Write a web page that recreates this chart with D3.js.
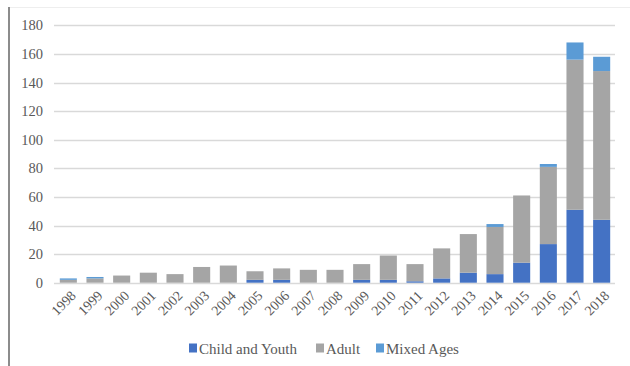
<!DOCTYPE html>
<html>
<head>
<meta charset="utf-8">
<script src="https://cdn.jsdelivr.net/npm/d3@7"></script>
<style>
  html, body { margin: 0; padding: 0; background: #fff; }
  svg { display: block; }
</style>
</head>
<body>
<svg id="chart" width="630" height="366"></svg>
<script>
const years = ["1998","1999","2000","2001","2002","2003","2004","2005","2006","2007","2008","2009","2010","2011","2012","2013","2014","2015","2016","2017","2018"];
const childYouth = [0,0,0,0,0,0,0,2,2,0,0,2,2,1,3,7,6,14,27,51,44];
const adult      = [2,3,5,7,6,11,12,6,8,9,9,11,17,12,21,27,33,47,54,105,104];
const mixedAges  = [1,1,0,0,0,0,0,0,0,0,0,0,0,0,0,0,2,0,2,12,10];
const seriesNames = ["Child and Youth","Adult","Mixed Ages"];
const seriesColors = ["#4472C4","#A5A5A5","#5B9BD5"];
const yTicks = [0,20,40,60,80,100,120,140,160,180];

const FONT = "'Liberation Serif', 'Times New Roman', Tinos, serif";
const svg = d3.select("#chart");

svg.append("line").attr("x1",9).attr("x2",630).attr("y1",7.5).attr("y2",7.5)
  .attr("stroke","#eeeeee").attr("stroke-width",1);
svg.append("line").attr("x1",9).attr("x2",9).attr("y1",7).attr("y2",366)
  .attr("stroke","#8c8c8c").attr("stroke-width",2);

const x = d3.scaleBand().domain(years).range([55,615]).paddingInner(0.36).paddingOuter(0.18);
const y = d3.scaleLinear().domain([0,180]).range([282.7,25.3]);

svg.append("g").selectAll("line").data(yTicks).join("line")
  .attr("x1",54).attr("x2",615)
  .attr("y1",d=>Math.round(y(d))+0.5).attr("y2",d=>Math.round(y(d))+0.5)
  .attr("stroke","#d9d9d9").attr("stroke-width",1.3);

const yAxis = d3.axisLeft(y).tickValues(yTicks).tickSize(0).tickPadding(0);
const ya = svg.append("g").attr("transform","translate(43,0)").call(yAxis)
  .attr("font-family",FONT).attr("font-size",14.5);
ya.select(".domain").remove();
ya.selectAll("text").attr("fill","#595959");

const table = years.map((yr,i)=>({year:yr, "Child and Youth":childYouth[i], "Adult":adult[i], "Mixed Ages":mixedAges[i]}));
const stack = d3.stack().keys(seriesNames)(table);
svg.append("g").selectAll("g").data(stack).join("g")
  .attr("fill",(d,i)=>seriesColors[i])
  .selectAll("rect").data(d=>d).join("rect")
  .attr("x",d=>x(d.data.year))
  .attr("width",x.bandwidth())
  .attr("y",d=>y(d[1]))
  .attr("height",d=>Math.max(0,y(d[0])-y(d[1])));

svg.append("g").attr("font-family",FONT).attr("font-size",14).attr("fill","#595959")
  .selectAll("text").data(years).join("text")
  .attr("transform",d=>`translate(${x(d)+x.bandwidth()/2+5},293) rotate(-45)`)
  .attr("text-anchor","end")
  .attr("dy","0.35em")
  .text(d=>d);

const legendX = [189,316,376];
const lg = svg.append("g").attr("font-family",FONT).attr("font-size",15).attr("fill","#595959")
  .selectAll("g").data(seriesNames).join("g")
  .attr("transform",(d,i)=>`translate(${legendX[i]},0)`);
lg.append("rect").attr("x",0).attr("y",343.5).attr("width",8).attr("height",9)
  .attr("fill",(d,i)=>seriesColors[i]);
lg.append("text").attr("x",10).attr("y",353.5).text(d=>d);
</script>
</body>
</html>
